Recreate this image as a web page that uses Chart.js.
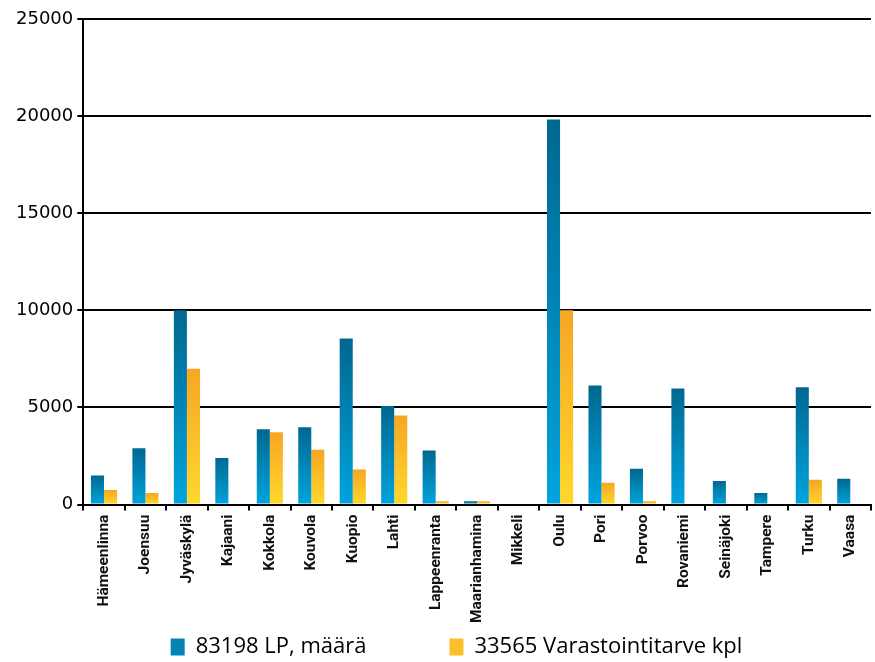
<!DOCTYPE html>
<html lang="fi">
<head>
  <meta charset="UTF-8">
  <title>LP-määrä ja varastointitarve</title>
  <script src="https://cdn.jsdelivr.net/npm/chart.js"></script>
  <style>
    html, body { margin: 0; padding: 0; background: #fff; }
    #wrap { width: 875px; height: 662px; }
  </style>
</head>
<body>
  <div id="wrap"><canvas id="lpChart"></canvas></div>

  <script>
    // kaupungit
    const cities = ['Hämeenlinna', 'Joensuu', 'Jyväskylä', 'Kajaani', 'Kokkola', 'Kouvola', 'Kuopio', 'Lahti',
      'Lappeenranta', 'Maarianhamina', 'Mikkeli', 'Oulu', 'Pori', 'Porvoo', 'Rovaniemi', 'Seinäjoki',
      'Tampere', 'Turku', 'Vaasa'];
    // arvot luettu kuvasta
    const lpCount = [1500, 2900, 10000, 2400, 3880, 3980, 8550, 5070, 2780, 170, 0, 19820, 6130, 1840, 5980, 1210,
      600, 6040, 1330];
    const storageNeed = [750, 600, 7000, 0, 3720, 2820, 1810, 4590, 170, 170, 0, 10000, 1130, 170, 0, 0,
      0, 1280, 0];
    const yTicks = [0, 5000, 10000, 15000, 20000, 25000];
    const seriesNames = ['83198 LP, määrä', '33565 Varastointitarve kpl'];

    const blueTop = '#006890', blueBottom = '#00a4de';
    const yellowTop = '#f6a623', yellowBottom = '#ffd82c';

    // pystysuuntainen liukuväri jokaiselle pylväälle erikseen
    function barGradient(top, bottom) {
      return function (ctx) {
        const chart = ctx.chart;
        if (!chart.chartArea || ctx.type !== 'data') return bottom;
        const y = chart.scales.y;
        const y0 = y.getPixelForValue(ctx.raw || 0);
        const y1 = y.getPixelForValue(0);
        if (y1 - y0 < 1) return bottom;
        const g = chart.ctx.createLinearGradient(0, y0, 0, y1);
        g.addColorStop(0, top);
        g.addColorStop(1, bottom);
        return g;
      };
    }

    // selitettä siirretään hieman kuten alkuperäisessä
    const legendShift = {
      id: 'legendShift',
      afterLayout(chart) {
        const lg = chart.legend;
        lg.left += 15;
        lg.right += 15;
        lg.top += 6;
        lg.bottom += 6;
      }
    };

    const ctx = document.getElementById('lpChart').getContext('2d');
    const lpChart = new Chart(ctx, {
      type: 'bar',
      data: {
        labels: cities,
        datasets: [{
          label: seriesNames[0],
          data: lpCount,
          backgroundColor: barGradient(blueTop, blueBottom),
          legendColor: '#0383b6'
        }, {
          label: seriesNames[1],
          data: storageNeed,
          backgroundColor: barGradient(yellowTop, yellowBottom),
          legendColor: '#fbbf27'
        }]
      },
      plugins: [legendShift],
      options: {
        responsive: true,
        maintainAspectRatio: false,
        animation: false,
        layout: { padding: { top: 19, right: 4, left: 12, bottom: 0 } },
        datasets: {
          bar: { categoryPercentage: 0.63, barPercentage: 1.0 }
        },
        plugins: {
          tooltip: { enabled: false },
          legend: {
            position: 'bottom',
            labels: {
              boxWidth: 14,
              boxHeight: 17,
              padding: 3,
              color: '#1a1a1a',
              font: { family: 'Open Sans', size: 22 },
              generateLabels(chart) {
                return chart.data.datasets.map((ds, i) => ({
                  text: i === 0 ? ds.label + '              ' : ds.label,
                  fillStyle: ds.legendColor,
                  strokeStyle: ds.legendColor,
                  lineWidth: 0,
                  hidden: false,
                  datasetIndex: i
                }));
              }
            }
          }
        },
        scales: {
          x: {
            grid: {
              offset: true,
              drawOnChartArea: false,
              drawTicks: true,
              tickLength: 6,
              color: '#000',
              lineWidth: 2
            },
            border: { color: '#000', width: 2 },
            ticks: {
              autoSkip: false,
              minRotation: 90,
              maxRotation: 90,
              color: '#111',
              padding: 4,
              font: { family: "'Liberation Sans Narrow', Roboto", size: 15.5, weight: 'bold' }
            }
          },
          y: {
            min: 0,
            max: 25000,
            afterBuildTicks(axis) {
              axis.ticks = yTicks.map(v => ({ value: v }));
            },
            grid: {
              color: '#000',
              lineWidth: 2,
              tickLength: 6
            },
            border: { color: '#000', width: 2 },
            ticks: {
              color: '#000',
              padding: 4,
              font: { family: 'DejaVu Sans', size: 18 },
              callback: v => String(v)
            }
          }
        }
      }
    });
  </script>
</body>
</html>
